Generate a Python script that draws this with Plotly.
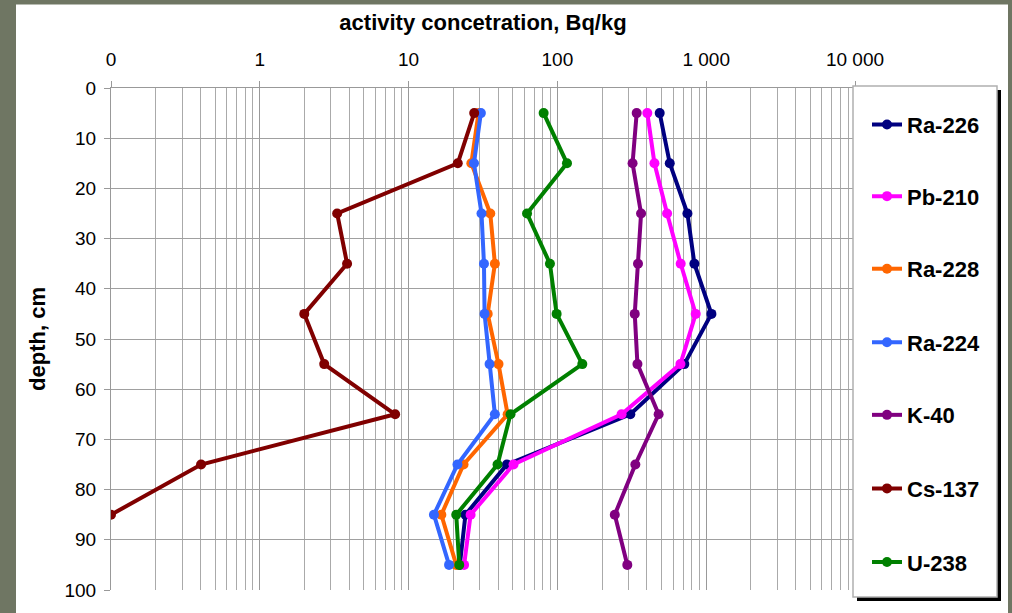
import plotly.graph_objects as go

# Sampling depths (cm)
depth = [5, 15, 25, 35, 45, 55, 65, 75, 85, 95]

# Activity concentrations, Bq/kg
ra226 = [487, 569, 748, 833, 1084, 713, 309, 45.8, 24.1, 22.1]
pb210 = [402, 449, 546, 674, 850, 671, 270, 50.7, 26.1, 23.6]
ra228 = [29.5, 26.4, 35.4, 38.0, 34.0, 40.2, 46.3, 23.4, 16.6, 20.9]
ra224 = [30.6, 27.5, 30.9, 32.1, 32.4, 35.0, 38.0, 21.3, 14.8, 18.7]
k40 = [341, 320, 365, 348, 331, 345, 479, 334, 243, 295]
cs137 = [27.6, 21.4, 3.31, 3.86, 1.99, 2.71, 8.12, 0.403, 0.1]
u238 = [80.8, 116, 62.5, 89.1, 98.8, 147, 48.4, 39.6, 20.9, 21.9]

series = [
    ("Ra-226", ra226, "#000080"),
    ("Pb-210", pb210, "#FF00FF"),
    ("Ra-228", ra228, "#FF6600"),
    ("Ra-224", ra224, "#3366FF"),
    ("K-40", k40, "#800080"),
    ("Cs-137", cs137, "#800000"),
    ("U-238", u238, "#008000"),
]

x_tickvals = [0.1, 1, 10, 100, 1000, 10000]
x_ticktext = ["0", "1", "10", "100", "1 000", "10 000"]
y_tickvals = list(range(0, 101, 10))

FONT = "Liberation Sans, Arial, sans-serif"
W, H = 1012, 613
ML, MR, MT, MB = 111, 157, 88, 20
PW, PH = W - ML - MR, H - MT - MB


def px_x(p):
    return (p - ML) / PW


def px_y(p):
    return (H - MB - p) / PH


fig = go.Figure()

legend_names = ["legend"] + [f"legend{i}" for i in range(2, 8)]
legend_y_px = [125, 197, 270, 344, 417, 491, 565]

for (name, vals, color), lg in zip(series, legend_names):
    fig.add_trace(go.Scatter(
        x=vals, y=depth[:len(vals)], name=name, mode="lines+markers",
        line=dict(color=color, width=4),
        marker=dict(color=color, size=10),
        legend=lg, showlegend=True,
    ))

# minor grid positions: 2..9 within each decade
minor_vals = [m * 10 ** e for e in range(-1, 4) for m in range(2, 10)]

layout = dict(
    width=W, height=H,
    showlegend=True,
    margin=dict(l=ML, r=MR, t=MT, b=MB, pad=0),
    paper_bgcolor="#6f7663",
    plot_bgcolor="white",
    font=dict(family=FONT, size=19, color="black"),
    xaxis=dict(
        type="log", range=[-1, 4], side="top",
        tickvals=x_tickvals, ticktext=x_ticktext,
        ticks="outside", ticklen=6, tickcolor="#999999",
        showgrid=True, gridcolor="#999999", gridwidth=1,
        showline=True, linecolor="#999999", linewidth=1, mirror=False,
        zeroline=False,
        ticklabelstandoff=7,
        minor=dict(tickvals=minor_vals, showgrid=True, gridcolor="#aaaaaa",
                   gridwidth=1, ticks=""),
        title=dict(text="<b>activity concetration, Bq/kg</b>",
                   font=dict(size=22), standoff=12),
    ),
    yaxis=dict(
        range=[100, 0], tickvals=y_tickvals,
        ticks="outside", ticklen=6, tickcolor="#999999",
        showgrid=True, gridcolor="#a0a0a0", gridwidth=1,
        showline=True, linecolor="#999999", linewidth=1,
        zeroline=False,
        ticklabelstandoff=4,
        title=dict(text="<b>depth, cm</b>", font=dict(size=22), standoff=12),
    ),
    shapes=[
        # white panel
        dict(type="rect", xref="paper", yref="paper", layer="below",
             x0=px_x(16), x1=px_x(1008), y0=px_y(640), y1=px_y(4),
             fillcolor="white", line=dict(width=0)),
        # legend box shadow
        dict(type="rect", xref="paper", yref="paper", layer="above",
             x0=px_x(857), x1=px_x(1001), y0=px_y(604), y1=px_y(90),
             fillcolor="black", line=dict(width=0)),
        # legend box
        dict(type="rect", xref="paper", yref="paper", layer="above",
             x0=px_x(853), x1=px_x(997), y0=px_y(600), y1=px_y(86),
             fillcolor="white", line=dict(color="#b0b0b0", width=1.5)),
    ],
)

for lg, ypx in zip(legend_names, legend_y_px):
    layout[lg] = dict(
        x=px_x(867), y=px_y(ypx), xanchor="left", yanchor="middle",
        bgcolor="rgba(0,0,0,0)", borderwidth=0,
        font=dict(family=FONT, size=22, color="black", weight="bold"),
        itemwidth=30, visible=True,
    )

fig.update_layout(**layout)
fig.write_html("out.html")
